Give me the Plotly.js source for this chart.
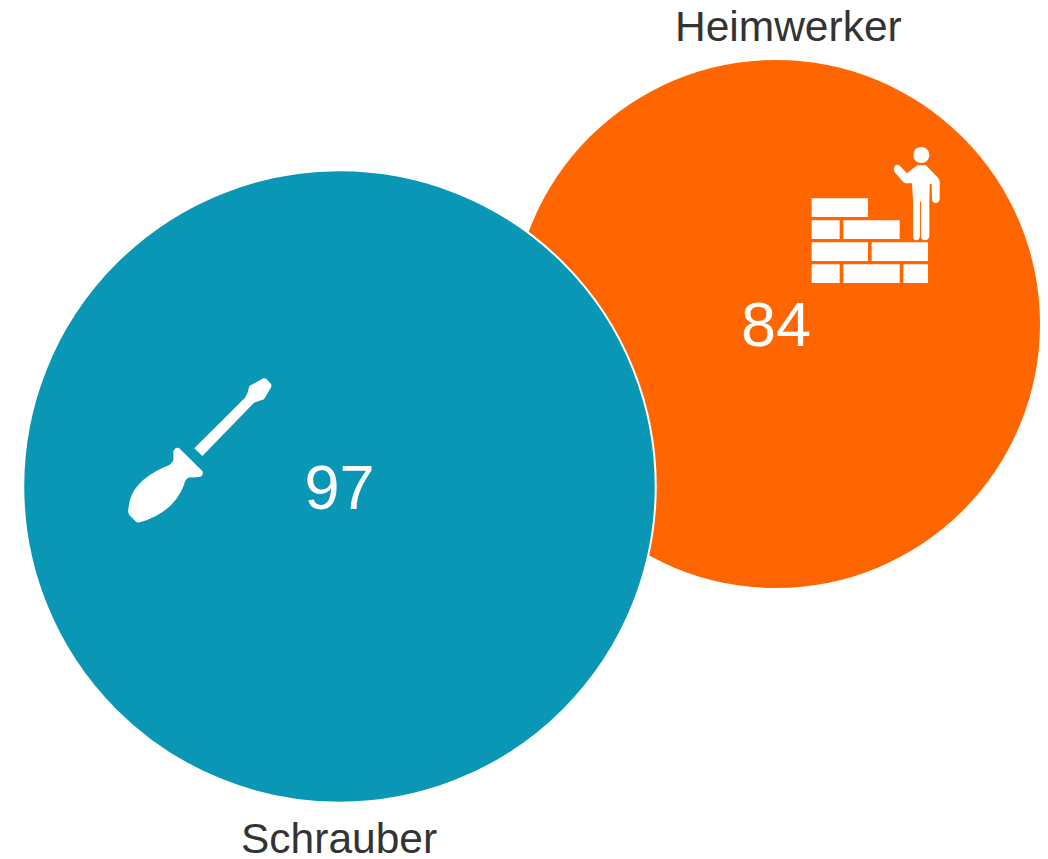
<!DOCTYPE html>
<html>
<head>
<meta charset="utf-8">
<script src="https://cdn.plot.ly/plotly-3.0.1.min.js"></script>
<style>html,body{margin:0;padding:0;background:#fff;overflow:hidden}</style>
</head>
<body>
<div id="chart" style="width:1048px;height:859px"></div>
<script>
const categories = ["Heimwerker", "Schrauber"];
const values = [84, 97];
const colors = ["#ff6600", "#0a97b5"];
const centerX = [776, 339.5];
const centerY = [324, 486.5];
const diameters = [528, 632.5];
const valueY = [330, 493.5];
const labelX = [788, 339];
const labelY = [26.5, 838.5];

const W = 1048, H = 859;

function icon(d, ox, oy) {
  return d.replace(/(-?[\d.]+),(-?[\d.]+)/g, (m, x, y) =>
    (ox + x / 3).toFixed(2) + "," + (oy + y / 3).toFixed(2));
}
function rect(x0, x1, y0, y1) {
  return `M${x0},${y0} L${x1},${y0} L${x1},${y1} L${x0},${y1} Z `;
}
const bricks =
  rect(95, 264, 205, 261) +
  rect(95, 179, 271, 327) + rect(190, 359, 271, 327) +
  rect(95, 264, 337, 393) + rect(275, 444, 337, 393) +
  rect(95, 179, 403, 459) + rect(190, 359, 403, 459) + rect(370, 444, 403, 459);
const person =
  "M341,118 Q343,100 358,106 L381,130 L397,117 L412,106 L438,106 L474,143 Q479,149 479,156 " +
  "L479,208 Q477,219 467,219 Q457,219 456,208 L455,162 L449,162 L448,215 L448,318 Q446,331 435,331 " +
  "Q424,331 423,318 L423,215 L420,215 L420,318 Q418,331 409,331 Q399,331 399,318 L399,210 " +
  "L396,160 L382,160 Q374,161 369,155 L344,127 Z " +
  "M400,75 C400,43 448,43 448,75 C448,107 400,107 400,75 Z";
const shaft =
  "M253,265 L405,113 Q412,105 415,90 L418,78 L460,55 Q465,53 470,58 L483,72 Q486,78 482,84 " +
  "L462,118 L440,125 L432,128 L277,288 Z";
const handle =
  "M190,275 Q195,260 207,264 L277,333 Q281,340 275,348 Q270,353 240,352 Q225,355 222,375 " +
  "Q190,458 90,487 Q84,489 78,485 L58,465 Q52,458 56,440 Q62,366 165,320 Q185,315 190,300 Z";

const iconShape = path => ({
  type: "path", xref: "x", yref: "y", path,
  fillcolor: "#ffffff", line: { width: 0 }, layer: "above"
});

const circles = {
  type: "scatter",
  mode: "markers",
  x: centerX,
  y: centerY,
  marker: {
    size: diameters,
    sizemode: "diameter",
    color: colors,
    opacity: 1,
    line: { color: ["rgba(255,255,255,0)", "#ffffff"], width: [0, 2] }
  },
  hoverinfo: "skip",
  cliponaxis: false
};
const numbers = {
  type: "scatter",
  mode: "text",
  x: centerX,
  y: valueY,
  text: values.map(String),
  textposition: "middle center",
  textfont: { family: "Liberation Sans, Arial, sans-serif", size: 63, color: "#ffffff" },
  hovertemplate: "%{customdata}: %{text}<extra></extra>",
  customdata: categories,
  cliponaxis: false
};

const layout = {
  width: W,
  height: H,
  margin: { l: 0, r: 0, t: 0, b: 0 },
  paper_bgcolor: "#ffffff",
  plot_bgcolor: "#ffffff",
  showlegend: false,
  xaxis: { range: [0, W], visible: false, fixedrange: true },
  yaxis: { range: [H, 0], visible: false, fixedrange: true },
  shapes: [
    iconShape(icon(bricks, 780, 130)),
    iconShape(icon(person, 780, 130)),
    iconShape(icon(shaft, 110, 360)),
    iconShape(icon(handle, 110, 360))
  ],
  annotations: categories.map((c, i) => ({
    text: c,
    x: labelX[i],
    y: labelY[i],
    xref: "x",
    yref: "y",
    showarrow: false,
    xanchor: "center",
    yanchor: "middle",
    font: { family: "Liberation Sans, Arial, sans-serif", size: 42.5, color: "#333333" }
  }))
};

Plotly.newPlot("chart", [circles, numbers], layout, { displayModeBar: false, staticPlot: true });
</script>
</body>
</html>
